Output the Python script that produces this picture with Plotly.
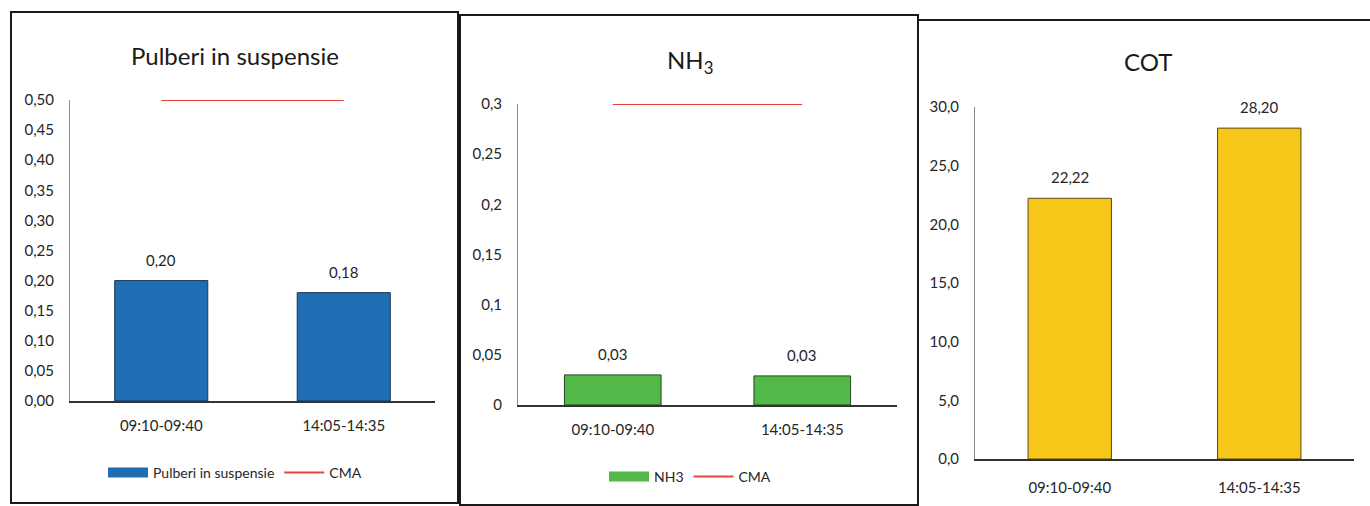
import plotly.graph_objects as go

# ---------------- data ----------------
categories = ["09:10-09:40", "14:05-14:35"]

pulberi_values = [0.20, 0.18]
pulberi_labels = ["0,20", "0,18"]
pulberi_cma = [0.5, 0.5]
pulberi_ticks = [0, 0.05, 0.10, 0.15, 0.20, 0.25, 0.30, 0.35, 0.40, 0.45, 0.50]
pulberi_ticktext = ["0,00", "0,05", "0,10", "0,15", "0,20", "0,25", "0,30", "0,35", "0,40", "0,45", "0,50"]

nh3_values = [0.030, 0.029]
nh3_labels = ["0,03", "0,03"]
nh3_cma = [0.3, 0.3]
nh3_ticks = [0, 0.05, 0.1, 0.15, 0.2, 0.25, 0.3]
nh3_ticktext = ["0", "0,05", "0,1", "0,15", "0,2", "0,25", "0,3"]

cot_values = [22.22, 28.20]
cot_labels = ["22,22", "28,20"]
cot_ticks = [0, 5, 10, 15, 20, 25, 30]
cot_ticktext = ["0,0", "5,0", "10,0", "15,0", "20,0", "25,0", "30,0"]

# ---------------- style ----------------
W, H = 1370, 506
FONT = "Lato, 'Open Sans', sans-serif"
TXT = "#262626"
BLUE = "#1f6db5"
GREEN = "#52b847"
YELLOW = "#f6c619"
RED = "#e8443c"


def px_x(p):
    return p / W


def px_y(p):
    return 1 - p / H


fig = go.Figure()

# Panel 1
fig.add_trace(go.Bar(x=categories, y=pulberi_values, name="Pulberi in suspensie",
                     marker=dict(color=BLUE, line=dict(color="#1d3550", width=1)),
                     width=0.51, xaxis="x", yaxis="y", showlegend=False, hoverinfo="skip"))
# legend entry drawn as a wide swatch, like the original
fig.add_trace(go.Scatter(x=[None], y=[None], name="Pulberi in suspensie", mode="lines",
                         line=dict(color=BLUE, width=10), xaxis="x", yaxis="y",
                         legend="legend", hoverinfo="skip"))
fig.add_trace(go.Scatter(x=categories, y=pulberi_cma, name="CMA", mode="lines",
                         line=dict(color=RED, width=2), xaxis="x", yaxis="y",
                         legend="legend", hoverinfo="skip", cliponaxis=False))
# Panel 2
fig.add_trace(go.Bar(x=categories, y=nh3_values, name="NH3",
                     marker=dict(color=GREEN, line=dict(color="#234a1f", width=1)),
                     width=0.51, xaxis="x2", yaxis="y2", showlegend=False, hoverinfo="skip"))
fig.add_trace(go.Scatter(x=[None], y=[None], name="NH3", mode="lines",
                         line=dict(color=GREEN, width=10), xaxis="x2", yaxis="y2",
                         legend="legend2", hoverinfo="skip"))
fig.add_trace(go.Scatter(x=categories, y=nh3_cma, name="CMA", mode="lines",
                         line=dict(color=RED, width=2), xaxis="x2", yaxis="y2",
                         legend="legend2", hoverinfo="skip", cliponaxis=False))
# Panel 3
fig.add_trace(go.Bar(x=categories, y=cot_values, name="COT",
                     marker=dict(color=YELLOW, line=dict(color="#5a4a1a", width=1)),
                     width=0.44, xaxis="x3", yaxis="y3", showlegend=False, hoverinfo="skip"))

tickfont = dict(family=FONT, size=15, color=TXT)


def xaxis(dom, standoff=10):
    return dict(domain=[px_x(dom[0]), px_x(dom[1])], type="category", range=[-0.5, 1.5],
                showline=True, linecolor="#333333", linewidth=1.5, showgrid=False,
                ticks="", tickfont=tickfont, ticklabelstandoff=standoff, fixedrange=True,
                automargin=False)


def yaxis(dom, rng, tv, tt, anchor):
    return dict(domain=[px_y(dom[1]), px_y(dom[0])], range=rng, tickvals=tv, ticktext=tt,
                showline=True, linecolor="#8a8a8a", linewidth=1, showgrid=False,
                zeroline=False, ticks="", tickfont=tickfont, ticklabelstandoff=12,
                anchor=anchor, fixedrange=True, automargin=False)


fig.update_layout(
    width=W, height=H, autosize=False,
    margin=dict(l=0, r=0, t=0, b=0, pad=0, autoexpand=False),
    paper_bgcolor="white", plot_bgcolor="white",
    font=dict(family=FONT, color=TXT),
    xaxis=dict(xaxis((70, 435)), anchor="y"),
    yaxis=yaxis((100, 401), [0, 0.5], pulberi_ticks, pulberi_ticktext, "x"),
    xaxis2=dict(xaxis((518, 897)), anchor="y2"),
    yaxis2=yaxis((104, 405), [0, 0.3], nh3_ticks, nh3_ticktext, "x2"),
    xaxis3=dict(xaxis((975, 1354), 14), anchor="y3"),
    yaxis3=yaxis((107, 459), [0, 30], cot_ticks, cot_ticktext, "x3"),
    legend=dict(orientation="h", x=px_x(235), y=px_y(473), xanchor="center", yanchor="middle",
                font=dict(family=FONT, size=14, color=TXT), itemwidth=40, bgcolor="rgba(0,0,0,0)"),
    legend2=dict(orientation="h", x=px_x(690), y=px_y(477), xanchor="center", yanchor="middle",
                 font=dict(family=FONT, size=14, color=TXT), itemwidth=40, bgcolor="rgba(0,0,0,0)"),
    bargap=0.49,
)

annotations = []
# Titles
for text, xc, yc in [("Pulberi in suspensie", 235, 55), ("NH<sub>3</sub>", 690, 62), ("COT", 1148, 62)]:
    annotations.append(dict(text=text, x=px_x(xc), y=px_y(yc), xref="paper", yref="paper",
                            xanchor="center", yanchor="middle", showarrow=False,
                            font=dict(family=FONT, size=24, color="#1a1a1a")))

# Value labels
for xr, yr, vals, labs in [("x", "y", pulberi_values, pulberi_labels),
                           ("x2", "y2", nh3_values, nh3_labels),
                           ("x3", "y3", cot_values, cot_labels)]:
    for c, v, l in zip(categories, vals, labs):
        annotations.append(dict(text=l, x=c, y=v, xref=xr, yref=yr, xanchor="center",
                                yanchor="bottom", yshift=10, showarrow=False,
                                font=dict(family=FONT, size=15, color=TXT)))
fig.update_layout(annotations=annotations)

# Panel borders
shapes = []
for x0, y0, x1, y1 in [(11, 12, 458, 503), (460, 15, 918, 505)]:
    shapes.append(dict(type="rect", xref="paper", yref="paper",
                       x0=px_x(x0), x1=px_x(x1), y0=px_y(y1), y1=px_y(y0),
                       line=dict(color="#1a1a1a", width=2)))
shapes.append(dict(type="line", xref="paper", yref="paper", x0=px_x(918), x1=px_x(918),
                   y0=px_y(506), y1=px_y(20), line=dict(color="#1a1a1a", width=2)))
shapes.append(dict(type="line", xref="paper", yref="paper", x0=px_x(918), x1=px_x(1370),
                   y0=px_y(20), y1=px_y(20), line=dict(color="#1a1a1a", width=2)))
fig.update_layout(shapes=shapes)

fig.write_html("out.html", config={"displayModeBar": False, "responsive": False},
               post_script="document.body.style.margin='0';document.body.style.overflow='hidden';")
